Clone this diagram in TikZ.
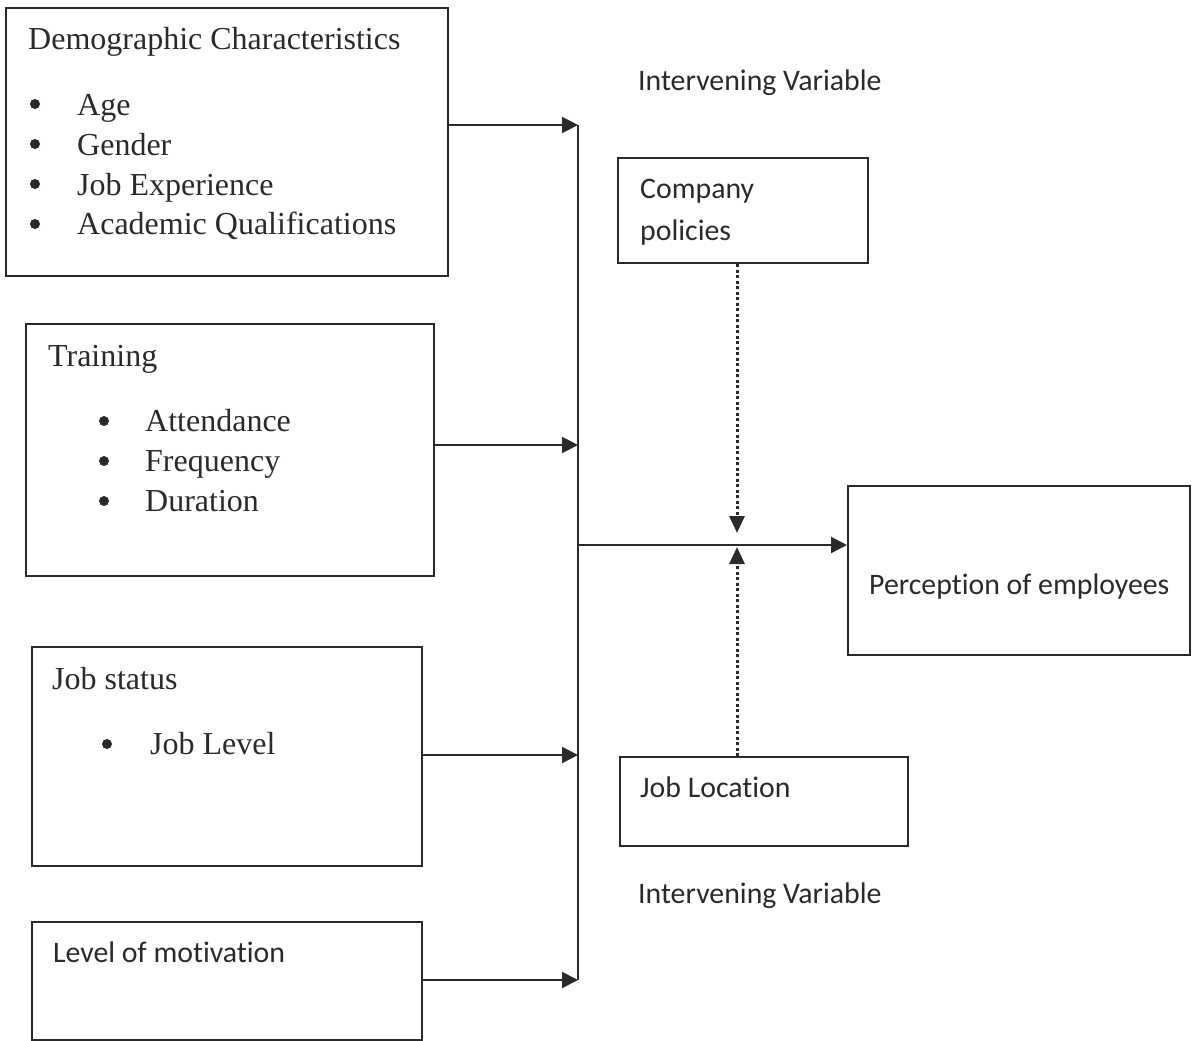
\documentclass[tikz,border=0pt]{standalone}
\usepackage{fontspec}
\setmainfont{Liberation Serif}
\newfontfamily\calib[RawFeature={-liga;-clig;-calt;-dlig}]{Carlito}
\usetikzlibrary{arrows.meta}
\definecolor{ink}{HTML}{2A2A2A}
\tikzset{
  box/.style={draw=ink, line width=2pt, fill=none, inner sep=0pt},
  serif/.style={anchor=base west, inner sep=0pt, text=ink, font=\fontsize{32}{38}\selectfont},
  sans/.style={anchor=base west, inner sep=0pt, text=ink, font=\calib\fontsize{29.8}{34}\selectfont},
  bul/.style={circle, fill=ink, draw=none, inner sep=0pt, minimum size=10pt},
  link/.style={draw=ink, line width=2pt, -{Triangle[length=16pt,width=16pt]}},
  dotlink/.style={draw=ink, line width=3pt, dash pattern=on 3pt off 2.5pt,
    -{Triangle[length=17pt,width=15pt]}},
}
\begin{document}
\begin{tikzpicture}[x=1pt,y=-1pt]
\useasboundingbox (0,0) rectangle (1194,1041);

% boxes (centre, size)
\node[box, minimum width=442pt, minimum height=268pt] (demo) at (227,142) {};
\node[box, minimum width=408pt, minimum height=252pt] (train) at (230,450) {};
\node[box, minimum width=390pt, minimum height=219pt] (status) at (227,756.5) {};
\node[box, minimum width=390pt, minimum height=118pt] (motiv) at (227,981) {};
\node[box, minimum width=250pt, minimum height=105pt] (pol) at (743,210.5) {};
\node[box, minimum width=288pt, minimum height=89pt] (loc) at (764,801.5) {};
\node[box, minimum width=342pt, minimum height=169pt] (perc) at (1019,570.5) {};

% demographic characteristics
\node[serif] (demoT) at (28,50) {Demographic Characteristics};
\node[bul] (db1) at (35,104) {};
\node[bul] (db2) at (35,144) {};
\node[bul] (db3) at (35,184) {};
\node[bul] (db4) at (35,224) {};
\node[serif] (d1) at (77,115) {Age};
\node[serif] (d2) at (77,155) {Gender};
\node[serif] (d3) at (77,195) {Job Experience};
\node[serif] (d4) at (77,234) {Academic Qualifications};

% training
\node[serif] (trainT) at (48,366) {Training};
\node[bul] (tb1) at (104,421) {};
\node[bul] (tb2) at (104,461) {};
\node[bul] (tb3) at (104,501) {};
\node[serif] (t1) at (145,431) {Attendance};
\node[serif] (t2) at (145,471) {Frequency};
\node[serif] (t3) at (145,511) {Duration};

% job status
\node[serif] (statusT) at (52,689) {Job status};
\node[bul] (sb1) at (107,744) {};
\node[serif] (s1) at (150,754) {Job Level};

% level of motivation
\node[sans] (motivT) at (53,962) {Level of motivation};

% intervening variables
\node[sans] (iv1) at (638,90) {Intervening Variable};
\node[sans] (iv2) at (638,903) {Intervening Variable};
\node[sans] (polT1) at (640,198) {Company};
\node[sans] (polT2) at (640,240) {policies};
\node[sans] (locT) at (640,797) {Job Location};
\node[sans] (percT) at (869,594) {Perception of employees};

% collecting bus
\coordinate (b1) at (578,125);
\coordinate (b2) at (578,445);
\coordinate (b3) at (578,755);
\coordinate (b4) at (578,980);
\coordinate (bm) at (578,545);
\draw[draw=ink, line width=2pt] (b1) -- (b4);

\draw[link] (demo.east |- b1) -- (b1);
\draw[link] (train.east |- b2) -- (b2);
\draw[link] (status.east |- b3) -- (b3);
\draw[link] (motiv.east |- b4) -- (b4);
\draw[link] (bm) -- (perc.west |- bm);

% moderating effects
\coordinate (dx) at (737,0);
\coordinate (dtop) at (737,533);
\coordinate (dbot) at (737,547);
\draw[dotlink] (pol.south -| dx) -- (dtop);
\draw[dotlink] (loc.north -| dx) -- (dbot);
\end{tikzpicture}
\end{document}
